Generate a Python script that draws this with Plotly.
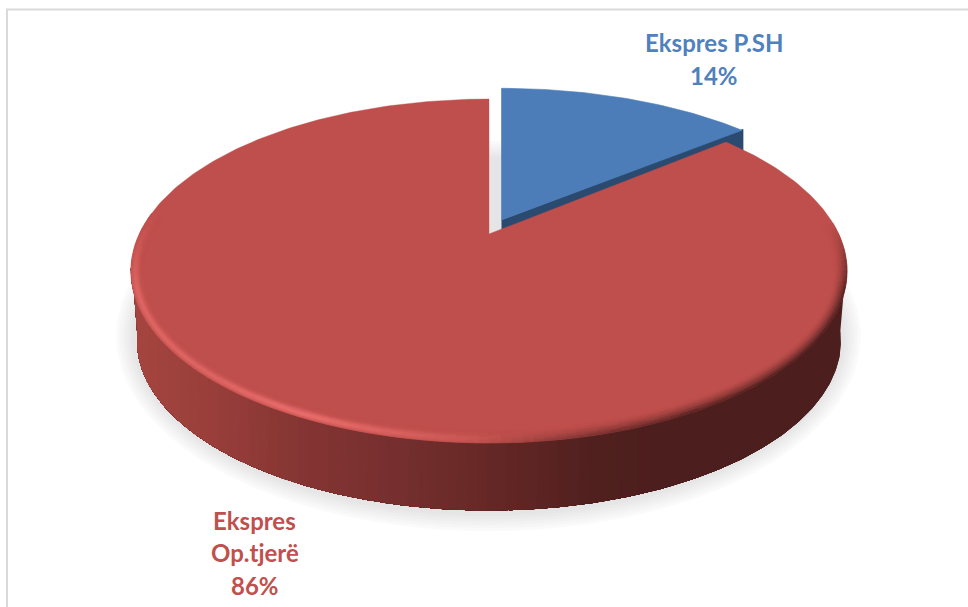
import numpy as np
import plotly.graph_objects as go

# ---- data ----
categories = ["Ekspres P.SH", "Ekspres Op.tjerë"]
values = [14, 86]
label_lines = [["Ekspres P.SH"], ["Ekspres", "Op.tjerë"]]
label_colors = ["#4F81BD", "#C0504D"]

# ---- look ----
W, H = 968, 607
RED, BLUE, BLUE_DARK = "#BF4F4C", "#4C7DB8", "#2B4A6F"
K = 0.215                 # perspective of the disc
APEX = (489, 234)
A, B = 349.7, 164.0
ELL = (APEX[0], APEX[1] + B * K / (1 - K * K), A / np.sqrt(1 - K * K), B / (1 - K * K))  # top face ellipse
ELL_LOW = (APEX[0], 341, 352, 169.5)  # lower edge of the side
BLUE_APEX = (501.5, 220)
BLUE_A, BLUE_B = 355.0, 160.0
BLUE_DROP = 68
SHADOW = (488.5, 336, 360, 183)


def hex2rgb(h):
    return np.array([int(h[i:i + 2], 16) for i in (1, 3, 5)], float)


def mix(c1, c2, t):
    return c1 + (c2 - c1) * t


def disc_point(frac, apex, a, b):
    th = 2 * np.pi * np.asarray(frac)
    X, Y = np.sin(th), np.cos(th)
    w = 1 + K * Y
    return apex[0] + a * X / w, apex[1] - b * Y / w


def wedge(f0, f1, apex, a, b):
    fr = np.linspace(f0, f1, max(int((f1 - f0) * 360), 2) + 1)
    x, y = disc_point(fr, apex, a, b)
    return [apex[0], *x, apex[0]], [apex[1], *y, apex[1]]


def ell(e, phi, d=0.0):
    return e[0] + (e[2] - d) * np.cos(phi), e[1] + (e[3] - d) * np.sin(phi)


fig = go.Figure()
polys = {}


def add_poly(x, y, col, lw=0.6):
    fig.add_trace(go.Scatter(x=list(x), y=list(y), mode="lines", fill="toself",
                             fillcolor=col, line=dict(color=col, width=lw),
                             hoverinfo="skip", showlegend=False))


def flush(polys):
    for col, pl in polys.items():
        xs, ys = [], []
        for px, py in pl:
            xs += list(px) + [px[0], None]
            ys += list(py) + [py[0], None]
        add_poly(xs, ys, col)
    polys.clear()


def q(c, step=3):
    c = np.clip(np.round(c / step) * step, 0, 255).astype(int)
    return "#%02x%02x%02x" % tuple(c)


# shadow: stacked soft ellipses
phi_all = np.linspace(0, 2 * np.pi, 361)
for i, g in enumerate([250, 246, 242, 238, 234, 230, 229]):
    grow = 12 - i * 3.0
    sx, sy = ell((SHADOW[0], SHADOW[1], SHADOW[2] + grow, SHADOW[3] + grow), phi_all)
    add_poly(sx, sy, "#%02x%02x%02x" % (g, g, g), 0.5)

# shares
total = sum(values)
f_blue = values[0] / total

# blue slice and its cut face
bx, by = wedge(0, f_blue, BLUE_APEX, BLUE_A, BLUE_B)
ex, ey = disc_point(f_blue, BLUE_APEX, BLUE_A, BLUE_B)
add_poly([BLUE_APEX[0], ex + 1, ex + 1, BLUE_APEX[0]],
         [BLUE_APEX[1], ey - 1, ey + BLUE_DROP, BLUE_APEX[1] + BLUE_DROP], BLUE_DARK)
add_poly(bx, by, BLUE)

# red side wall: painted right-to-left so neighbouring bands never leave seams
side_x = [130, 210, 300, 400, 500, 600, 660, 850]
side_stops = [hex2rgb(c) for c in ["#A5453F", "#9A3F3B", "#853533", "#752F2E",
                                   "#642725", "#4F201E", "#4C1E1D", "#4C1E1D"]]
phis = np.linspace(-0.06, np.pi + 0.06, 300)
xt, yt = ell(ELL, phis)
xl, yl = ell(ELL_LOW, phis)
band_edges = np.linspace(130, 850, 73)
for b in range(len(band_edges) - 1):
    left, right = band_edges[-b - 2], band_edges[-b - 1]
    xm = (left + right) / 2
    c = np.array([np.interp(xm, side_x, [s[k] for s in side_stops]) for k in range(3)])
    # everything left of "right" gets this band's colour; later bands overpaint further left
    it = xt <= right
    il = xl <= right
    px = list(xt[it]) + list(xl[il][::-1])
    py = list(yt[it]) + list(yl[il][::-1])
    add_poly(px, py, q(c, 1), 0)

# red top face
rx, ry = wedge(f_blue, 1.0, APEX, A, B)
add_poly(rx, ry, RED, 0.4)

# bevelled rim on the red face
base = hex2rgb(RED)
hi = hex2rgb("#EA6E6C")
dark = hex2rgb("#4C1E1D")
rim_d = np.linspace(0, 13, 12)
n_rim = 120
r0, r1 = -0.28, np.pi + 0.34
rphi = np.linspace(r0, r1, n_rim + 1)
for j in range(n_rim):
    p = rphi[j:j + 2]
    pm = p.mean()
    xm = ell(ELL, pm)[0]
    fade = min(1, (pm - r0) / 0.4, (r1 - pm) / 0.45)
    Hl = np.interp(xm, [130, 210, 300, 400, 480, 560], [0.7, 0.72, 1.0, 0.6, 0.2, 0]) * fade
    Dk = np.interp(xm, [470, 600, 700, 850], [0, 0.65, 0.95, 1.0]) * fade
    for i in range(len(rim_d) - 1):
        t = (rim_d[i] + rim_d[i + 1]) / 2 / rim_d[-1]
        c = mix(base, hi, Hl * np.exp(-((t - 0.33) / 0.28) ** 2))
        c = mix(c, dark, Dk * (1 - t) ** 1.6)
        x0, y0 = ell(ELL, p, rim_d[i])
        x1, y1 = ell(ELL, p, rim_d[i + 1])
        polys.setdefault(q(c), []).append(([x0[0], x0[1], x1[1], x1[0]], [y0[0], y0[1], y1[1], y1[0]]))
flush(polys)

# frame
fig.add_shape(type="line", x0=7, x1=7, y0=9.5, y1=H, line=dict(color="#DADADA", width=2))
fig.add_shape(type="line", x0=6, x1=W, y0=9.5, y1=9.5, line=dict(color="#DADADA", width=2))

# labels
pos = [(714, [42, 75]), (254.5, [520, 552, 585])]
for i, cat in enumerate(categories):
    lines = label_lines[i] + [f"{values[i]}%"]
    cx, ys = pos[i]
    for ln, yy in zip(lines, ys):
        fig.add_annotation(x=cx, y=yy, text=f"<b>{ln}</b>", showarrow=False, xanchor="center",
                           yanchor="middle",
                           font=dict(family="Lato", size=24, color=label_colors[i]))

fig.update_layout(width=W, height=H, margin=dict(l=0, r=0, t=0, b=0),
                  paper_bgcolor="white", plot_bgcolor="white", showlegend=False,
                  xaxis=dict(range=[0, W], visible=False, fixedrange=True),
                  yaxis=dict(range=[H, 0], visible=False, fixedrange=True))
fig.write_html("out.html", config={"displayModeBar": False},
               post_script="document.body.style.margin='0';document.body.style.overflow='hidden';")
